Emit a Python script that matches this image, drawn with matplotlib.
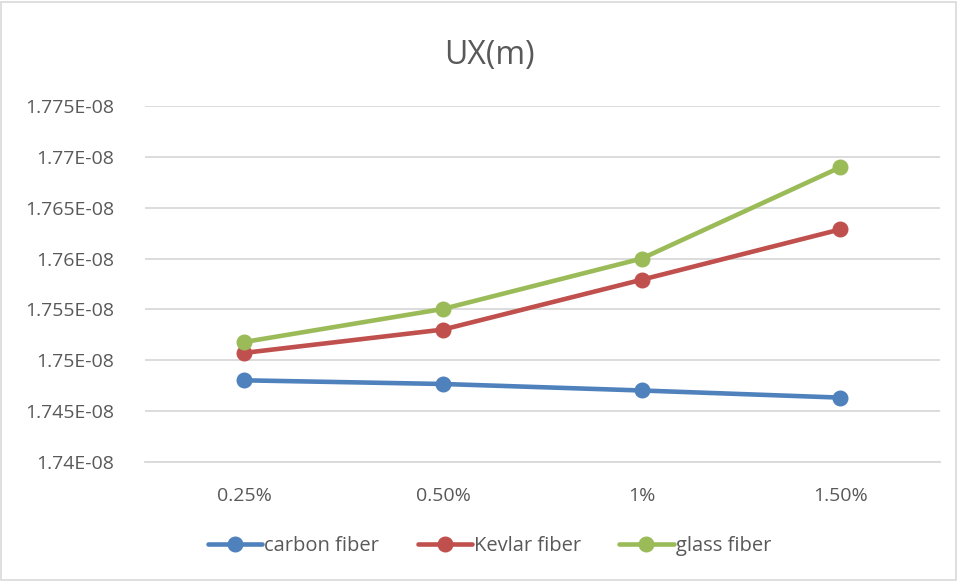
import matplotlib
matplotlib.use("Agg")
import matplotlib.pyplot as plt
from matplotlib.patches import Rectangle

categories = ["0.25%", "0.50%", "1%", "1.50%"]
carbon = [1.74803e-08, 1.74767e-08, 1.74703e-08, 1.74633e-08]
kevlar = [1.75073e-08, 1.75302e-08, 1.75792e-08, 1.76287e-08]
glass = [1.75180e-08, 1.75505e-08, 1.76000e-08, 1.76898e-08]
yticks = [1.74e-08, 1.745e-08, 1.75e-08, 1.755e-08, 1.76e-08, 1.765e-08, 1.77e-08, 1.775e-08]
ytick_labels = ["1.74E-08", "1.745E-08", "1.75E-08", "1.755E-08", "1.76E-08", "1.765E-08", "1.77E-08", "1.775E-08"]
series_names = ["carbon fiber", "Kevlar fiber", "glass fiber"]
colors = ["#4F81BD", "#C0504D", "#9BBB59"]

plt.rcParams['font.family'] = ['Open Sans', 'DejaVu Sans']

fig = plt.figure(figsize=(9.58, 5.81), dpi=100)
ax = fig.add_axes([0.1514, 0.2048, 0.8296, 0.6128])

x = list(range(len(categories)))
for vals, name, c in zip([carbon, kevlar, glass], series_names, colors):
    ax.plot(x, vals, color=c, lw=3.3, marker='o', markersize=10.5, label=name,
            solid_capstyle='round', zorder=3)

ax.set_xlim(-0.5, 3.5)
ax.set_ylim(yticks[0], yticks[-1])
ax.set_yticks(yticks)
ax.set_yticklabels(ytick_labels)
ax.set_xticks(x)
ax.set_xticklabels(categories)
ax.yaxis.grid(True, color='#D9D9D9', lw=1.3)
ax.set_axisbelow(True)
for s in ['top', 'right', 'left']:
    ax.spines[s].set_visible(False)
ax.spines['bottom'].set_color('#D9D9D9')
ax.spines['bottom'].set_linewidth(1.3)
ax.tick_params(axis='both', length=0, labelsize=14, colors='#595959')
ax.tick_params(axis='y', pad=22)
ax.tick_params(axis='x', pad=18)

fig.text(0.511, 0.905, "UX(m)", ha='center', va='center', fontsize=23, color='#595959')

leg = fig.legend(loc='center', bbox_to_anchor=(0.511, 0.06), ncol=3, frameon=False,
                 fontsize=14.5, handlelength=2.7, columnspacing=1.9, handletextpad=0.1)
for t in leg.get_texts():
    t.set_color('#595959')

fig.patches.append(Rectangle((0.001, 0.001), 0.997, 0.996, transform=fig.transFigure,
                             fill=False, edgecolor='#D9D9D9', lw=1.2))

fig.savefig("out.png", dpi=100)
